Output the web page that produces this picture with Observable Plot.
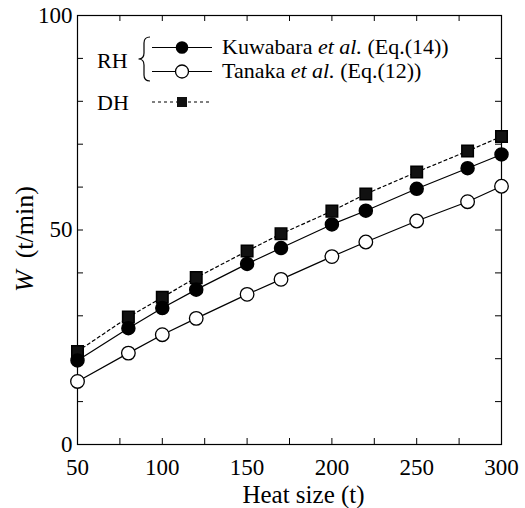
<!DOCTYPE html>
<html><head><meta charset="utf-8">
<script src="https://cdn.jsdelivr.net/npm/d3@7"></script>
<script src="https://cdn.jsdelivr.net/npm/@observablehq/plot@0.6"></script>
<style>
body{margin:0;background:#fff}
#chart{position:relative;width:525px;height:508px}
#chart svg, #chart svg text{font-family:"Liberation Serif",serif !important}
</style>
</head><body><div id="chart"></div>
<script>
// Data
const heatSize = [50, 80, 100, 120, 150, 170, 200, 220, 250, 280, 300];
const kuwabara = [19.6, 27.1, 31.8, 36.1, 42.1, 45.8, 51.3, 54.5, 59.6, 64.4, 67.6];
const tanaka   = [14.7, 21.3, 25.6, 29.4, 35.0, 38.5, 43.8, 47.2, 52.1, 56.6, 60.2];
const dhValues = [21.7, 29.7, 34.3, 38.9, 45.1, 49.1, 54.4, 58.4, 63.5, 68.4, 71.8];
const xTicks = [50, 75, 100, 125, 150, 175, 200, 225, 250, 275, 300];
const xLabels = [50, 100, 150, 200, 250, 300];
const yTicks = [0, 10, 20, 30, 40, 50, 60, 70, 80, 90, 100];
const yLabels = [0, 50, 100];
const xTitle = "Heat size (t)";
const legendGroup = "RH";
const legendDH = "DH";

const rows = (vals) => heatSize.map((x, i) => ({x, y: vals[i]}));
const K = rows(kuwabara), T = rows(tanaka), D = rows(dhValues);

const W = 525, H = 508;
const mL = 77, mR = 24, mT = 15, mB = 64;
const innerW = W - mL - mR, innerH = H - mT - mB;
const tick = 6;
const font = "'Liberation Serif', serif";

const plot = Plot.plot({
  width: W, height: H,
  marginLeft: mL, marginRight: mR, marginTop: mT, marginBottom: mB,
  style: {fontFamily: font, color: "#000", background: "#fff"},
  x: {domain: [50, 300]},
  y: {domain: [0, 100]},
  marks: [
    Plot.frame({stroke: "#000", strokeWidth: 1.2}),
    // inward ticks on all four sides
    Plot.tickX(xTicks, {x: d => d, insetTop: innerH - tick, stroke: "#000"}),
    Plot.tickX(xTicks, {x: d => d, insetBottom: innerH - tick, stroke: "#000"}),
    Plot.tickY(yTicks, {y: d => d, insetRight: innerW - tick, stroke: "#000"}),
    Plot.tickY(yTicks, {y: d => d, insetLeft: innerW - tick, stroke: "#000"}),
    Plot.axisX(xLabels, {tickSize: 0, tickPadding: 14, fontSize: 23, fontFamily: font, label: null, lineAnchor: "top"}),
    Plot.axisY(yLabels, {tickSize: 0, tickPadding: 5, fontSize: 23, fontFamily: font, label: null}),
    Plot.text([xTitle], {text: d => d, frameAnchor: "bottom", dy: 58, dx: 14, fontSize: 25, fontFamily: font, lineAnchor: "bottom"}),
    // DH
    Plot.line(D, {x: "x", y: "y", stroke: "#000", strokeWidth: 1.2, strokeDasharray: "3,3"}),
    Plot.dot(D, {x: "x", y: "y", symbol: "square", r: 6.5, fill: "#111", stroke: "#000"}),
    // Kuwabara
    Plot.line(K, {x: "x", y: "y", stroke: "#000", strokeWidth: 1.2}),
    Plot.dot(K, {x: "x", y: "y", r: 6.5, fill: "#000", stroke: "#000"}),
    // Tanaka
    Plot.line(T, {x: "x", y: "y", stroke: "#000", strokeWidth: 1.2}),
    Plot.dot(T, {x: "x", y: "y", r: 6.8, fill: "#fff", stroke: "#000", strokeWidth: 1.3})
  ]
});

document.getElementById("chart").appendChild(plot);

// Y-axis title with italic W, and the legend
const svg = d3.select(plot);
const yt = svg.append("text")
  .attr("transform", "translate(33,292) rotate(-90)")
  .attr("text-anchor", "start")
  .attr("font-family", font).attr("font-size", 26).attr("fill", "#000");
yt.append("tspan").attr("font-style", "italic").text("W");
yt.append("tspan").attr("dx", 12).text("(t/min)");

const lg = svg.append("g").attr("font-family", font).attr("font-size", 22)
  .attr("fill", "#000").attr("text-anchor", "start");
const rowY = [47.5, 71.5, 102];
lg.append("text").attr("x", 97).attr("y", 68).text(legendGroup);
lg.append("text").attr("x", 97).attr("y", 110).text(legendDH);
// brace
lg.append("path")
  .attr("d", "M150,37 Q144,37 144,43 L144,53 Q144,59 138.5,59 Q144,59 144,65 L144,75 Q144,81 150,81")
  .attr("fill", "none").attr("stroke", "#000").attr("stroke-width", 1.2);
// rows
lg.append("line").attr("x1", 152).attr("x2", 212).attr("y1", rowY[0]).attr("y2", rowY[0]).attr("stroke", "#000").attr("stroke-width", 1.2);
lg.append("circle").attr("cx", 182).attr("cy", rowY[0]).attr("r", 6.3).attr("fill", "#000");
lg.append("line").attr("x1", 152).attr("x2", 212).attr("y1", rowY[1]).attr("y2", rowY[1]).attr("stroke", "#000").attr("stroke-width", 1.2);
lg.append("circle").attr("cx", 182).attr("cy", rowY[1]).attr("r", 6.5).attr("fill", "#fff").attr("stroke", "#000").attr("stroke-width", 1.3);
lg.append("line").attr("x1", 152).attr("x2", 212).attr("y1", rowY[2]).attr("y2", rowY[2]).attr("stroke", "#000").attr("stroke-width", 1.2).attr("stroke-dasharray", "3,3");
lg.append("rect").attr("x", 177).attr("y", rowY[2] - 5).attr("width", 10).attr("height", 10).attr("fill", "#111");
const t1 = lg.append("text").attr("x", 222).attr("y", rowY[0] + 6);
t1.append("tspan").text("Kuwabara ");
t1.append("tspan").attr("font-style", "italic").text("et al.");
t1.append("tspan").text(" (Eq.(14))");
const t2 = lg.append("text").attr("x", 222).attr("y", rowY[1] + 6);
t2.append("tspan").text("Tanaka ");
t2.append("tspan").attr("font-style", "italic").text("et al.");
t2.append("tspan").text(" (Eq.(12))");
</script>
</body></html>
